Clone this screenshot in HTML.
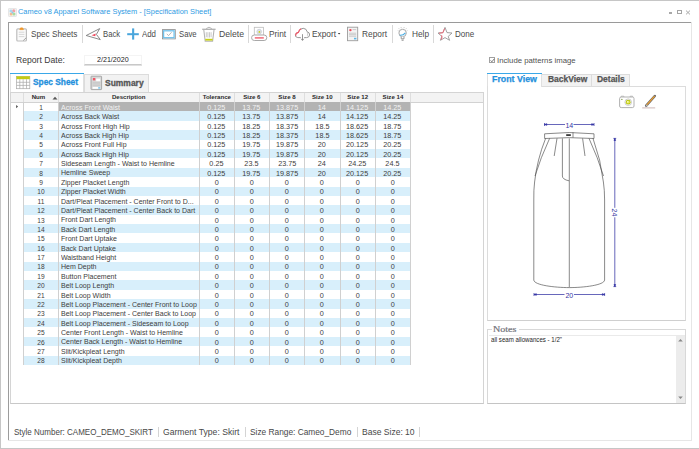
<!DOCTYPE html>
<html><head><meta charset="utf-8"><style>
html,body{margin:0;padding:0;width:699px;height:449px;overflow:hidden;background:#fff;font-family:'Liberation Sans', sans-serif;position:relative}
</style></head><body>
<div style="position:absolute;left:0px;top:0px;width:699px;height:1px;background:#c6c6c6;"></div>
<div style="position:absolute;left:0px;top:0px;width:1px;height:449px;background:#c6c6c6;"></div>
<div style="position:absolute;left:0px;top:448px;width:699px;height:1px;background:#c6c6c6;"></div>
<svg style="position:absolute;left:8px;top:7.6px" width="9" height="9" viewBox="0 0 9 9">
<rect x="0.4" y="0.4" width="8.2" height="8.2" rx="1" fill="#f2f2f2" stroke="#d6d6d6" stroke-width="0.6"/>
<circle cx="3" cy="3" r="1.5" fill="#a8d8f0"/>
<circle cx="5.8" cy="2.8" r="1.5" fill="#f4a0a0"/>
<circle cx="3.2" cy="5.9" r="1.5" fill="#f6c880"/>
<circle cx="6" cy="6" r="1.5" fill="#a8dca0"/>
<path d="M2 7 L7 2" stroke="#f6a0b0" stroke-width="0.9"/>
<circle cx="4.5" cy="4.5" r="1" fill="#8ec8ee"/>
</svg>
<div style="position:absolute;top:8.44px;font-size:8.1px;line-height:1;font-weight:400;color:#2e9be3;white-space:pre;left:18.40px;transform:scaleX(0.9166);transform-origin:0 0">Cameo v8 Apparel Software System - [Specification Sheet]</div>
<div style="position:absolute;left:668.5px;top:12.4px;width:3.5px;height:1.4px;background:#a8a8a8;"></div>
<div style="position:absolute;left:676.8px;top:10px;width:4.9px;height:4px;box-sizing:border-box;border:0.8px solid #a4a4a4;border-top-width:1.6px"></div>
<svg style="position:absolute;left:685px;top:9.5px" width="6" height="5" viewBox="0 0 6 5"><path d="M1 0.6 L5 4.4 M5 0.6 L1 4.4" stroke="#a0a0a0" stroke-width="0.9"/></svg>
<div style="position:absolute;left:8px;top:22px;width:683px;height:1px;background:#9a9a9a;"></div>
<div style="position:absolute;left:8px;top:22px;width:1px;height:418px;background:#9c9c9c;"></div>
<div style="position:absolute;left:691px;top:22px;width:1px;height:418px;background:#e6e6e6;"></div>
<div style="position:absolute;left:8px;top:440px;width:684px;height:1px;background:#e6e6e6;"></div>
<div style="position:absolute;left:82px;top:25.3px;width:1px;height:17.4px;background:#d8d8d8;"></div>
<div style="position:absolute;left:248px;top:25.3px;width:1px;height:17.4px;background:#d8d8d8;"></div>
<div style="position:absolute;left:290px;top:25.3px;width:1px;height:17.4px;background:#d8d8d8;"></div>
<div style="position:absolute;left:391.5px;top:25.3px;width:1px;height:17.4px;background:#d8d8d8;"></div>
<div style="position:absolute;left:433px;top:25.3px;width:1px;height:17.4px;background:#d8d8d8;"></div>
<div style="position:absolute;top:29.95px;font-size:8.8px;line-height:1;font-weight:400;color:#4a4a4a;white-space:pre;left:31.00px;transform:scaleX(0.9300);transform-origin:0 0">Spec Sheets</div>
<div style="position:absolute;top:29.95px;font-size:8.8px;line-height:1;font-weight:400;color:#4a4a4a;white-space:pre;left:103.30px;transform:scaleX(0.8741);transform-origin:0 0">Back</div>
<div style="position:absolute;top:29.95px;font-size:8.8px;line-height:1;font-weight:400;color:#4a4a4a;white-space:pre;left:142.30px;transform:scaleX(0.8942);transform-origin:0 0">Add</div>
<div style="position:absolute;top:29.95px;font-size:8.8px;line-height:1;font-weight:400;color:#4a4a4a;white-space:pre;left:178.60px;transform:scaleX(0.8773);transform-origin:0 0">Save</div>
<div style="position:absolute;top:29.95px;font-size:8.8px;line-height:1;font-weight:400;color:#4a4a4a;white-space:pre;left:218.60px;transform:scaleX(0.9867);transform-origin:0 0">Delete</div>
<div style="position:absolute;top:29.95px;font-size:8.8px;line-height:1;font-weight:400;color:#4a4a4a;white-space:pre;left:268.80px;transform:scaleX(0.9451);transform-origin:0 0">Print</div>
<div style="position:absolute;top:29.95px;font-size:8.8px;line-height:1;font-weight:400;color:#4a4a4a;white-space:pre;left:312.00px;transform:scaleX(0.9474);transform-origin:0 0">Export</div>
<div style="position:absolute;top:29.95px;font-size:8.8px;line-height:1;font-weight:400;color:#4a4a4a;white-space:pre;left:362.00px;transform:scaleX(0.9467);transform-origin:0 0">Report</div>
<div style="position:absolute;top:29.95px;font-size:8.8px;line-height:1;font-weight:400;color:#4a4a4a;white-space:pre;left:412.10px;transform:scaleX(0.9396);transform-origin:0 0">Help</div>
<div style="position:absolute;top:29.95px;font-size:8.8px;line-height:1;font-weight:400;color:#4a4a4a;white-space:pre;left:454.60px;transform:scaleX(0.9129);transform-origin:0 0">Done</div>
<div style="position:absolute;top:55.63px;font-size:9.3px;line-height:1;font-weight:400;color:#3a3a3a;white-space:pre;left:15.60px;transform:scaleX(0.9276);transform-origin:0 0">Report Date:</div>
<div style="position:absolute;left:84px;top:54.5px;width:57.5px;height:10.8px;box-sizing:border-box;background:#fff;border:1px solid #f4f4f4;border-bottom:1.5px solid #c8c8c8;box-shadow:0 0.5px 0.5px #e0e0e0"></div>
<div style="position:absolute;top:56.07px;font-size:7px;line-height:1;font-weight:400;color:#222;white-space:pre;left:96.50px;transform:scaleX(1.0175);transform-origin:0 0">2/21/2020</div>
<div style="position:absolute;left:10px;top:72.5px;width:73.5px;height:1.3px;background:#3aa8e8;"></div>
<div style="position:absolute;left:10px;top:73.5px;width:73.5px;height:19px;box-sizing:border-box;background:#fff;border-left:1px solid #e0e0e0;border-right:1px solid #e0e0e0"></div>
<div style="position:absolute;left:83.5px;top:74px;width:65px;height:18.5px;box-sizing:border-box;background:#f2f2f2;border:1px solid #dcdcdc;border-bottom:none"></div>
<div style="position:absolute;top:78.41px;font-size:9.2px;line-height:1;font-weight:700;color:#1f90dc;white-space:pre;-webkit-text-stroke:0.3px #1f90dc;left:32.70px;transform:scaleX(0.9085);transform-origin:0 0">Spec Sheet</div>
<div style="position:absolute;top:79.01px;font-size:9.2px;line-height:1;font-weight:700;color:#555;white-space:pre;-webkit-text-stroke:0.3px #555;left:105.00px;transform:scaleX(0.9218);transform-origin:0 0">Summary</div>
<div style="position:absolute;left:10px;top:92px;width:473.5px;height:311.5px;box-sizing:border-box;border:1px solid #d4d4d4;border-bottom:1.5px solid #c8c8c8;background:#fff"></div>

<div style="position:absolute;left:489px;top:57px;width:6.4px;height:6.4px;box-sizing:border-box;border:0.8px solid #a0a0a0;background:#fff"></div>
<svg style="position:absolute;left:489px;top:57px" width="7" height="7" viewBox="0 0 7 7"><path d="M1.6 3.4 L2.9 4.8 L5.2 1.9" fill="none" stroke="#505050" stroke-width="0.75"/></svg>
<div style="position:absolute;top:56.78px;font-size:7.7px;line-height:1;font-weight:400;color:#505050;white-space:pre;left:497.20px;transform:scaleX(1.0105);transform-origin:0 0">Include patterns image</div>
<div style="position:absolute;left:487px;top:72.5px;width:55px;height:1.3px;background:#3aa8e8;"></div>
<div style="position:absolute;left:487px;top:73.5px;width:55px;height:13px;box-sizing:border-box;background:#fff;border-left:1px solid #e0e0e0;border-right:1px solid #e0e0e0"></div>
<div style="position:absolute;left:542px;top:74px;width:50px;height:12.5px;box-sizing:border-box;background:#f2f2f2;border:1px solid #dcdcdc;border-bottom:none;border-left:none"></div>
<div style="position:absolute;left:592px;top:74px;width:38px;height:12.5px;box-sizing:border-box;background:#f2f2f2;border:1px solid #dcdcdc;border-bottom:none;border-left:none"></div>
<div style="position:absolute;top:75.32px;font-size:8.6px;line-height:1;font-weight:700;color:#1f90dc;white-space:pre;-webkit-text-stroke:0.25px #1f90dc;left:492.30px;transform:scaleX(1.0256);transform-origin:0 0">Front View</div>
<div style="position:absolute;top:74.92px;font-size:8.6px;line-height:1;font-weight:700;color:#555;white-space:pre;-webkit-text-stroke:0.25px #555;left:547.70px;transform:scaleX(0.9829);transform-origin:0 0">BackView</div>
<div style="position:absolute;top:74.92px;font-size:8.6px;line-height:1;font-weight:700;color:#555;white-space:pre;-webkit-text-stroke:0.25px #555;left:597.20px;transform:scaleX(0.9863);transform-origin:0 0">Details</div>
<div style="position:absolute;left:487px;top:86px;width:198.5px;height:234.5px;box-sizing:border-box;border:1px solid #dcdcdc;border-bottom:1.5px solid #cfcfcf;border-top:none"></div>
<div style="position:absolute;left:542px;top:86px;width:143.5px;height:1px;background:#dcdcdc;"></div>
<svg style="position:absolute;left:487px;top:86px" width="198" height="234" viewBox="487 86 198 234">
<!-- camera -->
<rect x="619.6" y="97" width="14.4" height="10.6" rx="1.6" fill="#fff" stroke="#a8a8a8" stroke-width="0.9"/>
<path d="M621.2 97 V96.2 H623.8 V97 M630.2 97 V96.2 H632.6 V97" fill="none" stroke="#b0b0b0" stroke-width="0.8"/>
<circle cx="628.2" cy="102.2" r="3.3" fill="#fff" stroke="#b8b8b8" stroke-width="0.7"/>
<circle cx="628.2" cy="102.2" r="2.4" fill="#b8c40c"/>
<circle cx="628.2" cy="102.2" r="1.4" fill="#e8ec60"/>
<circle cx="627.7" cy="101.8" r="0.6" fill="#fff"/>
<circle cx="621.9" cy="99.4" r="0.55" fill="#5a7a10"/>
<!-- pencil -->
<path d="M646.2 105.6 L654.8 96" stroke="#6a6a6a" stroke-width="2.5" stroke-linecap="round"/>
<path d="M646.4 105.4 L654.6 96.2" stroke="#f0a030" stroke-width="1.2"/>
<path d="M645.4 106.8 L646.8 104.6 L647.8 105.6Z" fill="#eee" stroke="#777" stroke-width="0.4"/>
<path d="M642.2 107.9 H655.2" stroke="#b89a9a" stroke-width="0.7"/>
<!-- dimension 14 -->
<g stroke="#3434a4" stroke-width="0.75" fill="none">
<path d="M544.5 124.5 H565 M573.5 124.5 H594"/>
<path d="M544.5 123 V126 M594 123 V126"/>
<path d="M544.6 124.5 L546.8 123.7 L546.8 125.3Z M593.9 124.5 L591.7 123.7 L591.7 125.3Z" fill="#3a3aa8"/>
<path d="M534 294.5 H564.5 M574 294.5 H604.6"/>
<path d="M534 293 V296 M604.6 293 V296"/>
<path d="M534.1 294.5 L536.3 293.7 L536.3 295.3Z M604.5 294.5 L602.3 293.7 L602.3 295.3Z" fill="#3a3aa8"/>
<path d="M614.8 138.4 V207.8 M614.8 217.3 V286.6"/>
<path d="M613.4 138.4 H616.2 M613.4 286.6 H616.2"/>
<path d="M614.8 138.5 L614 140.5 L615.6 140.5Z M614.8 286.5 L614 284.5 L615.6 284.5Z" fill="#3a3aa8"/>
</g>
<text x="569.3" y="128.3" font-size="7" fill="#3434a4" text-anchor="middle" font-family="Liberation Sans">14</text>
<text x="569.3" y="297.8" font-size="7" fill="#3434a4" text-anchor="middle" font-family="Liberation Sans">20</text>
<text x="0" y="0" font-size="7" fill="#3434a4" text-anchor="middle" font-family="Liberation Sans" transform="translate(612.3 212.5) rotate(90)">24</text>
<!-- skirt -->
<g stroke="#4a4a4a" stroke-width="0.65" fill="none">
<path d="M544.6 133.8 Q569.3 131.2 594 133.8 V138.5 Q569.3 136.8 544.6 138.5Z" fill="#fff"/>
<path d="M573 132.3 V137.6"/>
<path d="M545.6 138.4 Q537 160 534.6 182 Q533.6 190 533.8 200 V280 C534 285.2 555 287.6 569.3 287.6 C583.6 287.6 604.4 285.2 604.6 280 V200 Q604.6 190 603.4 182 Q601 160 593 138.4"/>
<path d="M549.6 138.4 Q540.5 158 535 176"/>
<path d="M589 138.4 Q598 158 603.5 176"/>
<path d="M557 138.4 L554.2 156"/>
<path d="M582.6 138.4 L585 156"/>
<path d="M562.4 138.4 V176 Q562.4 179.5 569 180.8"/>
<path d="M569.3 138.4 V287.2"/>
</g>
<rect x="566.2" y="134.2" width="4.6" height="1.8" fill="#3a3a3a"/>
</svg>

<div style="position:absolute;left:487px;top:329px;width:198.5px;height:74.5px;box-sizing:border-box;border:1px solid #d8d8d8;border-bottom:1.5px solid #c4c4c4"></div>
<div style="position:absolute;left:492px;top:326px;width:27px;height:6px;background:#fff;"></div>
<div style="position:absolute;top:326.06px;font-size:8.2px;line-height:1;font-weight:400;color:#74747c;white-space:pre;-webkit-text-stroke:0.2px #74747c;font-family:'Liberation Serif';left:492.60px;transform:scaleX(1.2245);transform-origin:0 0">Notes</div>
<div style="position:absolute;left:488.5px;top:335px;width:196px;height:67.5px;box-sizing:border-box;background:#fff;border-top:1px solid #eaeaea"></div>
<div style="position:absolute;left:676px;top:335.5px;width:9px;height:67px;background:#ececec;"></div>
<svg style="position:absolute;left:677px;top:337px" width="7" height="65" viewBox="0 0 7 65"><path d="M1.2 4.6 L3.5 2 L5.8 4.6Z" fill="#888"/><path d="M1.2 59.5 L3.5 62 L5.8 59.5Z" fill="#888"/></svg>
<div style="position:absolute;top:337.07px;font-size:6.3px;line-height:1;font-weight:400;color:#1e1e1e;white-space:pre;left:490.60px;transform:scaleX(0.9734);transform-origin:0 0">all seam allowances - 1/2&quot;</div>
<div style="position:absolute;top:427.54px;font-size:8.7px;line-height:1;font-weight:400;color:#484848;white-space:pre;left:13.70px;transform:scaleX(0.9231);transform-origin:0 0">Style Number: CAMEO_DEMO_SKIRT</div>
<div style="position:absolute;top:427.54px;font-size:8.7px;line-height:1;font-weight:400;color:#484848;white-space:pre;left:163.30px;transform:scaleX(0.9910);transform-origin:0 0">Garment Type: Skirt</div>
<div style="position:absolute;top:427.54px;font-size:8.7px;line-height:1;font-weight:400;color:#484848;white-space:pre;left:250.20px;transform:scaleX(0.9578);transform-origin:0 0">Size Range: Cameo_Demo</div>
<div style="position:absolute;top:427.54px;font-size:8.7px;line-height:1;font-weight:400;color:#484848;white-space:pre;left:361.80px;transform:scaleX(0.9812);transform-origin:0 0">Base Size: 10</div>
<div style="position:absolute;left:157.8px;top:427px;width:1px;height:9.5px;background:#d4d4d4;"></div>
<div style="position:absolute;left:245px;top:427px;width:1px;height:9.5px;background:#d4d4d4;"></div>
<div style="position:absolute;left:356.8px;top:427px;width:1px;height:9.5px;background:#d4d4d4;"></div>
<div style="position:absolute;left:419px;top:427px;width:1px;height:9.5px;background:#d4d4d4;"></div>
<svg style="position:absolute;left:0;top:0" width="699" height="100" viewBox="0 0 699 100">
<!-- clipboard -->
<rect x="16.8" y="28.8" width="9.6" height="12.2" rx="1" fill="#fafafa" stroke="#bdbdbd" stroke-width="1.2"/>
<path d="M19.8 29.6 L20.6 27.9 L22.6 27.9 L23.4 29.6Z" fill="#f0972a" stroke="#f0972a" stroke-width="0.8"/>
<path d="M18.8 32.2 H24.4 M18.8 34.4 H24.4 M18.8 36.6 H24.4" stroke="#c8c8c8" stroke-width="0.7"/>
<path d="M23.2 40.6 L26.2 37.8" stroke="#9a9a9a" stroke-width="0.9"/>
<!-- back plane -->
<path d="M86.2 35.5 L99.7 28.6 L96.4 34.4 L100.3 39.6Z" fill="#fff" stroke="#6e6e6e" stroke-width="0.8" stroke-linejoin="round"/>
<path d="M91.5 35.2 L95.8 33.6 L95.2 36.2Z" fill="#f04a5e"/>
<!-- plus -->
<rect x="127.2" y="33.2" width="11.6" height="2" fill="#4aa6dc"/>
<rect x="132.1" y="28.4" width="2.1" height="11.2" fill="#4aa6dc"/>
<!-- save -->
<rect x="162.4" y="29.6" width="12.9" height="9.3" fill="#fff" stroke="#8c8c8c" stroke-width="0.8"/>
<rect x="163.6" y="30.8" width="10.5" height="6.9" fill="#fff" stroke="#72c2ec" stroke-width="1.3"/>
<path d="M166.8 33.9 L168.6 35.6 L171.6 32.2" fill="none" stroke="#9a9a9a" stroke-width="0.7"/>
<!-- trash -->
<path d="M206.2 28.6 Q209 25.8 211.8 28.6" fill="none" stroke="#b8b8b8" stroke-width="1"/>
<path d="M202.2 29.3 H215.6" stroke="#b0b0b0" stroke-width="1.3"/>
<path d="M203.8 30 L205.2 41.2 H212.6 L214 30" fill="#fff" stroke="#b4b4b4" stroke-width="1.1"/>
<path d="M206.3 32.2 V37.2 M207.9 32.2 V37.5 M209.5 32.2 V37.5 M211.1 32.2 V37.2" stroke="#bdbdbd" stroke-width="0.8"/>
<rect x="205.3" y="38.8" width="7.3" height="1.8" fill="#c6cf14"/>
<!-- printer -->
<rect x="254.3" y="27.3" width="9.2" height="8" fill="#fff" stroke="#bdbdbd" stroke-width="0.8"/>
<circle cx="259.2" cy="31.7" r="2.4" fill="#dfe2ea" stroke="#c0c4d0" stroke-width="0.6"/>
<circle cx="259.4" cy="31.9" r="0.9" fill="#c8d010"/>
<rect x="251.6" y="35" width="15.2" height="5.5" rx="2.7" fill="#fff" stroke="#a8a8a8" stroke-width="1"/>
<rect x="254.8" y="37.2" width="9" height="1.4" fill="#ef6070"/>
<!-- cloud -->
<path d="M300.8 37.6 H297.8 Q294.8 37.2 295.4 34.6 Q296 32.6 298.4 32.4 Q299.2 28.4 303.2 28.3 Q306.6 28.5 307.2 31.8 Q309.8 32.4 309.6 35 Q309.2 37.6 306.6 37.6 H304.2" fill="#fff" stroke="#8c8c8c" stroke-width="0.9"/>
<path d="M307.2 31.8 Q308 33.4 307.4 35.8" fill="none" stroke="#b8b8b8" stroke-width="0.7"/>
<path d="M295.7 35.8 Q295.5 32.9 298.4 32.4 Q299 29.8 301.2 28.8" fill="none" stroke="#f05a6a" stroke-width="1.1"/>
<path d="M302.5 34.2 V40.2 M301.2 38.8 L302.5 40.4 L303.8 38.8" fill="none" stroke="#7a7a7a" stroke-width="0.8"/>
<path d="M337.8 32.9 H340.4 L339.1 34.6Z" fill="#333"/>
<!-- report -->
<rect x="347.5" y="27.2" width="10.2" height="13.5" fill="#f4f4f4" stroke="#9c9c9c" stroke-width="0.9"/>
<circle cx="350.4" cy="30.1" r="1.2" fill="#f04a5a"/>
<path d="M352.6 29.6 H356.2 M349 33.2 H356.2 M349 34.7 H356.2 M349 36.2 H356.2" stroke="#b8b8b8" stroke-width="0.7"/>
<rect x="354" y="37.8" width="2.4" height="1.6" fill="#5cb8e8"/>
<!-- bulb -->
<path d="M399.6 29.2 L398.8 28.4 M401.4 28.2 L401 27.2 M403.8 28.2 L404.2 27.2 M405.6 29.2 L406.4 28.4 M398.6 31 L397.8 30.6 M406.6 31 L407.4 30.6" stroke="#b4b4b4" stroke-width="0.8"/>
<circle cx="402.6" cy="33" r="3.7" fill="#fff" stroke="#a0a0a0" stroke-width="0.9"/>
<path d="M399.8 35.2 Q403 35.6 405.4 32.8" fill="none" stroke="#48ace2" stroke-width="1.2"/>
<path d="M401.2 36.8 V38.8 H404 V36.8" fill="#fff" stroke="#8c8c8c" stroke-width="0.9"/>
<path d="M401.6 40.2 H403.6" stroke="#8c8c8c" stroke-width="1"/>
<!-- star -->
<path d="M445 27.4 L447 32.6 L452 33 L448.2 36.4 L449.6 40.3 L445 37.6 L440.4 40.3 L441.8 36.4 L438 33 L443 32.6Z" fill="#fff" stroke="#8a8a8a" stroke-width="0.8" stroke-linejoin="round"/>
<path d="M444.6 28.6 L442.8 32.8 L439 33.2 M441.6 35.2 L442 37.4 L441.2 39.6" fill="none" stroke="#f06070" stroke-width="0.9"/>
<!-- calendar -->
<rect x="16.5" y="76.5" width="13.3" height="12.2" fill="#fff" stroke="#a8a8a8" stroke-width="0.7"/>
<rect x="16.5" y="76.3" width="13.3" height="2.9" fill="#c4cc12"/>
<path d="M16.5 82.3 H29.8 M16.5 85.4 H29.8 M19.8 79.2 V88.7 M23.15 79.2 V88.7 M26.5 79.2 V88.7" stroke="#a8a8a8" stroke-width="0.7"/>
<!-- summary icon -->
<rect x="91" y="76.2" width="10.6" height="13.4" rx="0.6" fill="#d8d8d8" stroke="#999" stroke-width="0.8"/>
<rect x="92.9" y="78" width="2.4" height="2.4" fill="#f25464"/>
<rect x="96.2" y="78.6" width="4" height="2.6" fill="#fff"/>
<path d="M92.6 82.4 H100.2 M92.6 83.9 H100.2 M92.6 85.4 H100.2" stroke="#bdbdbd" stroke-width="0.6"/>
<rect x="92.6" y="87" width="7.6" height="1.8" fill="#fff"/>
<rect x="98.2" y="87.2" width="2" height="1.4" fill="#6cc0ec"/>
</svg>

<div style="position:absolute;left:11px;top:93px;width:472px;height:9px;background:#f3f3f3;"></div>
<div style="position:absolute;left:11px;top:101.5px;width:472px;height:1px;background:#d2d2d2;"></div>
<div style="position:absolute;left:23px;top:93px;width:1px;height:9px;background:#dedede;"></div>
<div style="position:absolute;left:58px;top:93px;width:1px;height:9px;background:#dedede;"></div>
<div style="position:absolute;left:199px;top:93px;width:1px;height:9px;background:#dedede;"></div>
<div style="position:absolute;left:234px;top:93px;width:1px;height:9px;background:#dedede;"></div>
<div style="position:absolute;left:269px;top:93px;width:1px;height:9px;background:#dedede;"></div>
<div style="position:absolute;left:304px;top:93px;width:1px;height:9px;background:#dedede;"></div>
<div style="position:absolute;left:339.5px;top:93px;width:1px;height:9px;background:#dedede;"></div>
<div style="position:absolute;left:375px;top:93px;width:1px;height:9px;background:#dedede;"></div>
<div style="position:absolute;left:410px;top:93px;width:1px;height:9px;background:#dedede;"></div>
<div style="position:absolute;top:94.34px;font-size:6.1px;line-height:1;font-weight:700;color:#2a2a2a;white-space:pre;left:31.73px">Num</div>
<div style="position:absolute;top:94.34px;font-size:6.1px;line-height:1;font-weight:700;color:#2a2a2a;white-space:pre;left:111.88px">Description</div>
<div style="position:absolute;top:94.34px;font-size:6.1px;line-height:1;font-weight:700;color:#2a2a2a;white-space:pre;left:202.63px">Tolerance</div>
<div style="position:absolute;top:94.34px;font-size:6.1px;line-height:1;font-weight:700;color:#2a2a2a;white-space:pre;left:243.21px">Size 6</div>
<div style="position:absolute;top:94.34px;font-size:6.1px;line-height:1;font-weight:700;color:#2a2a2a;white-space:pre;left:278.36px">Size 8</div>
<div style="position:absolute;top:94.34px;font-size:6.1px;line-height:1;font-weight:700;color:#2a2a2a;white-space:pre;left:311.96px">Size 10</div>
<div style="position:absolute;top:94.34px;font-size:6.1px;line-height:1;font-weight:700;color:#2a2a2a;white-space:pre;left:347.36px">Size 12</div>
<div style="position:absolute;top:94.34px;font-size:6.1px;line-height:1;font-weight:700;color:#2a2a2a;white-space:pre;left:382.61px">Size 14</div>
<svg style="position:absolute;left:51.5px;top:95.6px" width="6" height="4" viewBox="0 0 6 4"><path d="M0.5 3.5 L3 0.8 L5.5 3.5Z" fill="#555"/></svg>
<div style="position:absolute;left:58px;top:102.0px;width:352px;height:9.39px;background:#b3b3b3;"></div>
<div style="position:absolute;left:23px;top:111.39px;width:387px;height:9.39px;background:#d8effb;"></div>
<div style="position:absolute;left:23px;top:130.17px;width:387px;height:9.39px;background:#d8effb;"></div>
<div style="position:absolute;left:23px;top:148.95px;width:387px;height:9.39px;background:#d8effb;"></div>
<div style="position:absolute;left:23px;top:167.73px;width:387px;height:9.39px;background:#d8effb;"></div>
<div style="position:absolute;left:23px;top:186.51px;width:387px;height:9.39px;background:#d8effb;"></div>
<div style="position:absolute;left:23px;top:205.29px;width:387px;height:9.39px;background:#d8effb;"></div>
<div style="position:absolute;left:23px;top:224.07px;width:387px;height:9.39px;background:#d8effb;"></div>
<div style="position:absolute;left:23px;top:242.85px;width:387px;height:9.39px;background:#d8effb;"></div>
<div style="position:absolute;left:23px;top:261.63px;width:387px;height:9.39px;background:#d8effb;"></div>
<div style="position:absolute;left:23px;top:280.41px;width:387px;height:9.39px;background:#d8effb;"></div>
<div style="position:absolute;left:23px;top:299.19px;width:387px;height:9.39px;background:#d8effb;"></div>
<div style="position:absolute;left:23px;top:317.97px;width:387px;height:9.39px;background:#d8effb;"></div>
<div style="position:absolute;left:23px;top:336.75px;width:387px;height:9.39px;background:#d8effb;"></div>
<div style="position:absolute;left:23px;top:355.53px;width:387px;height:9.39px;background:#d8effb;"></div>
<div style="position:absolute;left:23px;top:102px;width:1px;height:262.92px;background:#d0d0d0;"></div>
<div style="position:absolute;left:58px;top:102px;width:1px;height:262.92px;background:#d0d0d0;"></div>
<div style="position:absolute;left:199px;top:102px;width:1px;height:262.92px;background:#d0d0d0;"></div>
<div style="position:absolute;left:234px;top:102px;width:1px;height:262.92px;background:#d0d0d0;"></div>
<div style="position:absolute;left:269px;top:102px;width:1px;height:262.92px;background:#d0d0d0;"></div>
<div style="position:absolute;left:304px;top:102px;width:1px;height:262.92px;background:#d0d0d0;"></div>
<div style="position:absolute;left:339.5px;top:102px;width:1px;height:262.92px;background:#d0d0d0;"></div>
<div style="position:absolute;left:375px;top:102px;width:1px;height:262.92px;background:#d0d0d0;"></div>
<div style="position:absolute;left:410px;top:102px;width:1px;height:262.92px;background:#d0d0d0;"></div>
<svg style="position:absolute;left:15px;top:104px" width="4" height="5" viewBox="0 0 4 5"><path d="M1.2 1 L3 2.6 L1.2 4.2Z" fill="#444"/></svg>
<div style="position:absolute;top:104.86px;font-size:6.6px;line-height:1;font-weight:400;color:#404040;white-space:pre;left:39.16px">1</div>
<div style="position:absolute;top:104.74px;font-size:6.75px;line-height:1;font-weight:400;color:#f2f2f2;white-space:pre;left:61.00px;transform:scaleX(1.04);transform-origin:0 0">Across Front Waist</div>
<div style="position:absolute;top:104.86px;font-size:6.6px;line-height:1;font-weight:400;color:#f2f2f2;white-space:pre;left:208.34px;transform:scaleX(1.1);transform-origin:8.26px 0">0.125</div>
<div style="position:absolute;top:104.86px;font-size:6.6px;line-height:1;font-weight:400;color:#f2f2f2;white-space:pre;left:243.39px;transform:scaleX(1.1);transform-origin:8.26px 0">13.75</div>
<div style="position:absolute;top:104.86px;font-size:6.6px;line-height:1;font-weight:400;color:#f2f2f2;white-space:pre;left:276.71px;transform:scaleX(1.1);transform-origin:10.09px 0">13.875</div>
<div style="position:absolute;top:104.86px;font-size:6.6px;line-height:1;font-weight:400;color:#f2f2f2;white-space:pre;left:318.43px;transform:scaleX(1.1);transform-origin:3.67px 0">14</div>
<div style="position:absolute;top:104.86px;font-size:6.6px;line-height:1;font-weight:400;color:#f2f2f2;white-space:pre;left:347.41px;transform:scaleX(1.1);transform-origin:10.09px 0">14.125</div>
<div style="position:absolute;top:104.86px;font-size:6.6px;line-height:1;font-weight:400;color:#f2f2f2;white-space:pre;left:384.49px;transform:scaleX(1.1);transform-origin:8.26px 0">14.25</div>
<div style="position:absolute;top:114.25px;font-size:6.6px;line-height:1;font-weight:400;color:#404040;white-space:pre;left:39.16px">2</div>
<div style="position:absolute;top:114.13px;font-size:6.75px;line-height:1;font-weight:400;color:#404040;white-space:pre;left:61.00px;transform:scaleX(1.04);transform-origin:0 0">Across Back Waist</div>
<div style="position:absolute;top:114.25px;font-size:6.6px;line-height:1;font-weight:400;color:#404040;white-space:pre;left:208.34px;transform:scaleX(1.1);transform-origin:8.26px 0">0.125</div>
<div style="position:absolute;top:114.25px;font-size:6.6px;line-height:1;font-weight:400;color:#404040;white-space:pre;left:243.39px;transform:scaleX(1.1);transform-origin:8.26px 0">13.75</div>
<div style="position:absolute;top:114.25px;font-size:6.6px;line-height:1;font-weight:400;color:#404040;white-space:pre;left:276.71px;transform:scaleX(1.1);transform-origin:10.09px 0">13.875</div>
<div style="position:absolute;top:114.25px;font-size:6.6px;line-height:1;font-weight:400;color:#404040;white-space:pre;left:318.43px;transform:scaleX(1.1);transform-origin:3.67px 0">14</div>
<div style="position:absolute;top:114.25px;font-size:6.6px;line-height:1;font-weight:400;color:#404040;white-space:pre;left:347.41px;transform:scaleX(1.1);transform-origin:10.09px 0">14.125</div>
<div style="position:absolute;top:114.25px;font-size:6.6px;line-height:1;font-weight:400;color:#404040;white-space:pre;left:384.49px;transform:scaleX(1.1);transform-origin:8.26px 0">14.25</div>
<div style="position:absolute;top:123.64px;font-size:6.6px;line-height:1;font-weight:400;color:#404040;white-space:pre;left:39.16px">3</div>
<div style="position:absolute;top:123.52px;font-size:6.75px;line-height:1;font-weight:400;color:#404040;white-space:pre;left:61.00px;transform:scaleX(1.04);transform-origin:0 0">Across Front High Hip</div>
<div style="position:absolute;top:123.64px;font-size:6.6px;line-height:1;font-weight:400;color:#404040;white-space:pre;left:208.34px;transform:scaleX(1.1);transform-origin:8.26px 0">0.125</div>
<div style="position:absolute;top:123.64px;font-size:6.6px;line-height:1;font-weight:400;color:#404040;white-space:pre;left:243.39px;transform:scaleX(1.1);transform-origin:8.26px 0">18.25</div>
<div style="position:absolute;top:123.64px;font-size:6.6px;line-height:1;font-weight:400;color:#404040;white-space:pre;left:276.71px;transform:scaleX(1.1);transform-origin:10.09px 0">18.375</div>
<div style="position:absolute;top:123.64px;font-size:6.6px;line-height:1;font-weight:400;color:#404040;white-space:pre;left:315.68px;transform:scaleX(1.1);transform-origin:6.42px 0">18.5</div>
<div style="position:absolute;top:123.64px;font-size:6.6px;line-height:1;font-weight:400;color:#404040;white-space:pre;left:347.41px;transform:scaleX(1.1);transform-origin:10.09px 0">18.625</div>
<div style="position:absolute;top:123.64px;font-size:6.6px;line-height:1;font-weight:400;color:#404040;white-space:pre;left:384.49px;transform:scaleX(1.1);transform-origin:8.26px 0">18.75</div>
<div style="position:absolute;top:133.03px;font-size:6.6px;line-height:1;font-weight:400;color:#404040;white-space:pre;left:39.16px">4</div>
<div style="position:absolute;top:132.91px;font-size:6.75px;line-height:1;font-weight:400;color:#404040;white-space:pre;left:61.00px;transform:scaleX(1.04);transform-origin:0 0">Across Back High Hip</div>
<div style="position:absolute;top:133.03px;font-size:6.6px;line-height:1;font-weight:400;color:#404040;white-space:pre;left:208.34px;transform:scaleX(1.1);transform-origin:8.26px 0">0.125</div>
<div style="position:absolute;top:133.03px;font-size:6.6px;line-height:1;font-weight:400;color:#404040;white-space:pre;left:243.39px;transform:scaleX(1.1);transform-origin:8.26px 0">18.25</div>
<div style="position:absolute;top:133.03px;font-size:6.6px;line-height:1;font-weight:400;color:#404040;white-space:pre;left:276.71px;transform:scaleX(1.1);transform-origin:10.09px 0">18.375</div>
<div style="position:absolute;top:133.03px;font-size:6.6px;line-height:1;font-weight:400;color:#404040;white-space:pre;left:315.68px;transform:scaleX(1.1);transform-origin:6.42px 0">18.5</div>
<div style="position:absolute;top:133.03px;font-size:6.6px;line-height:1;font-weight:400;color:#404040;white-space:pre;left:347.41px;transform:scaleX(1.1);transform-origin:10.09px 0">18.625</div>
<div style="position:absolute;top:133.03px;font-size:6.6px;line-height:1;font-weight:400;color:#404040;white-space:pre;left:384.49px;transform:scaleX(1.1);transform-origin:8.26px 0">18.75</div>
<div style="position:absolute;top:142.42px;font-size:6.6px;line-height:1;font-weight:400;color:#404040;white-space:pre;left:39.16px">5</div>
<div style="position:absolute;top:142.30px;font-size:6.75px;line-height:1;font-weight:400;color:#404040;white-space:pre;left:61.00px;transform:scaleX(1.04);transform-origin:0 0">Across Front Full Hip</div>
<div style="position:absolute;top:142.42px;font-size:6.6px;line-height:1;font-weight:400;color:#404040;white-space:pre;left:208.34px;transform:scaleX(1.1);transform-origin:8.26px 0">0.125</div>
<div style="position:absolute;top:142.42px;font-size:6.6px;line-height:1;font-weight:400;color:#404040;white-space:pre;left:243.39px;transform:scaleX(1.1);transform-origin:8.26px 0">19.75</div>
<div style="position:absolute;top:142.42px;font-size:6.6px;line-height:1;font-weight:400;color:#404040;white-space:pre;left:276.71px;transform:scaleX(1.1);transform-origin:10.09px 0">19.875</div>
<div style="position:absolute;top:142.42px;font-size:6.6px;line-height:1;font-weight:400;color:#404040;white-space:pre;left:318.43px;transform:scaleX(1.1);transform-origin:3.67px 0">20</div>
<div style="position:absolute;top:142.42px;font-size:6.6px;line-height:1;font-weight:400;color:#404040;white-space:pre;left:347.41px;transform:scaleX(1.1);transform-origin:10.09px 0">20.125</div>
<div style="position:absolute;top:142.42px;font-size:6.6px;line-height:1;font-weight:400;color:#404040;white-space:pre;left:384.49px;transform:scaleX(1.1);transform-origin:8.26px 0">20.25</div>
<div style="position:absolute;top:151.81px;font-size:6.6px;line-height:1;font-weight:400;color:#404040;white-space:pre;left:39.16px">6</div>
<div style="position:absolute;top:151.69px;font-size:6.75px;line-height:1;font-weight:400;color:#404040;white-space:pre;left:61.00px;transform:scaleX(1.04);transform-origin:0 0">Across Back High Hip</div>
<div style="position:absolute;top:151.81px;font-size:6.6px;line-height:1;font-weight:400;color:#404040;white-space:pre;left:208.34px;transform:scaleX(1.1);transform-origin:8.26px 0">0.125</div>
<div style="position:absolute;top:151.81px;font-size:6.6px;line-height:1;font-weight:400;color:#404040;white-space:pre;left:243.39px;transform:scaleX(1.1);transform-origin:8.26px 0">19.75</div>
<div style="position:absolute;top:151.81px;font-size:6.6px;line-height:1;font-weight:400;color:#404040;white-space:pre;left:276.71px;transform:scaleX(1.1);transform-origin:10.09px 0">19.875</div>
<div style="position:absolute;top:151.81px;font-size:6.6px;line-height:1;font-weight:400;color:#404040;white-space:pre;left:318.43px;transform:scaleX(1.1);transform-origin:3.67px 0">20</div>
<div style="position:absolute;top:151.81px;font-size:6.6px;line-height:1;font-weight:400;color:#404040;white-space:pre;left:347.41px;transform:scaleX(1.1);transform-origin:10.09px 0">20.125</div>
<div style="position:absolute;top:151.81px;font-size:6.6px;line-height:1;font-weight:400;color:#404040;white-space:pre;left:384.49px;transform:scaleX(1.1);transform-origin:8.26px 0">20.25</div>
<div style="position:absolute;top:161.20px;font-size:6.6px;line-height:1;font-weight:400;color:#404040;white-space:pre;left:39.16px">7</div>
<div style="position:absolute;top:161.08px;font-size:6.75px;line-height:1;font-weight:400;color:#404040;white-space:pre;left:61.00px;transform:scaleX(1.04);transform-origin:0 0">Sideseam Length - Waist to Hemline</div>
<div style="position:absolute;top:161.20px;font-size:6.6px;line-height:1;font-weight:400;color:#404040;white-space:pre;left:210.18px;transform:scaleX(1.1);transform-origin:6.42px 0">0.25</div>
<div style="position:absolute;top:161.20px;font-size:6.6px;line-height:1;font-weight:400;color:#404040;white-space:pre;left:245.23px;transform:scaleX(1.1);transform-origin:6.42px 0">23.5</div>
<div style="position:absolute;top:161.20px;font-size:6.6px;line-height:1;font-weight:400;color:#404040;white-space:pre;left:278.54px;transform:scaleX(1.1);transform-origin:8.26px 0">23.75</div>
<div style="position:absolute;top:161.20px;font-size:6.6px;line-height:1;font-weight:400;color:#404040;white-space:pre;left:318.43px;transform:scaleX(1.1);transform-origin:3.67px 0">24</div>
<div style="position:absolute;top:161.20px;font-size:6.6px;line-height:1;font-weight:400;color:#404040;white-space:pre;left:349.24px;transform:scaleX(1.1);transform-origin:8.26px 0">24.25</div>
<div style="position:absolute;top:161.20px;font-size:6.6px;line-height:1;font-weight:400;color:#404040;white-space:pre;left:386.33px;transform:scaleX(1.1);transform-origin:6.42px 0">24.5</div>
<div style="position:absolute;top:170.59px;font-size:6.6px;line-height:1;font-weight:400;color:#404040;white-space:pre;left:39.16px">8</div>
<div style="position:absolute;top:170.47px;font-size:6.75px;line-height:1;font-weight:400;color:#404040;white-space:pre;left:61.00px;transform:scaleX(1.04);transform-origin:0 0">Hemline Sweep</div>
<div style="position:absolute;top:170.59px;font-size:6.6px;line-height:1;font-weight:400;color:#404040;white-space:pre;left:208.34px;transform:scaleX(1.1);transform-origin:8.26px 0">0.125</div>
<div style="position:absolute;top:170.59px;font-size:6.6px;line-height:1;font-weight:400;color:#404040;white-space:pre;left:243.39px;transform:scaleX(1.1);transform-origin:8.26px 0">19.75</div>
<div style="position:absolute;top:170.59px;font-size:6.6px;line-height:1;font-weight:400;color:#404040;white-space:pre;left:276.71px;transform:scaleX(1.1);transform-origin:10.09px 0">19.875</div>
<div style="position:absolute;top:170.59px;font-size:6.6px;line-height:1;font-weight:400;color:#404040;white-space:pre;left:318.43px;transform:scaleX(1.1);transform-origin:3.67px 0">20</div>
<div style="position:absolute;top:170.59px;font-size:6.6px;line-height:1;font-weight:400;color:#404040;white-space:pre;left:347.41px;transform:scaleX(1.1);transform-origin:10.09px 0">20.125</div>
<div style="position:absolute;top:170.59px;font-size:6.6px;line-height:1;font-weight:400;color:#404040;white-space:pre;left:384.49px;transform:scaleX(1.1);transform-origin:8.26px 0">20.25</div>
<div style="position:absolute;top:179.98px;font-size:6.6px;line-height:1;font-weight:400;color:#404040;white-space:pre;left:39.16px">9</div>
<div style="position:absolute;top:179.86px;font-size:6.75px;line-height:1;font-weight:400;color:#404040;white-space:pre;left:61.00px;transform:scaleX(1.04);transform-origin:0 0">Zipper Placket Length</div>
<div style="position:absolute;top:179.98px;font-size:6.6px;line-height:1;font-weight:400;color:#404040;white-space:pre;left:214.76px;transform:scaleX(1.1);transform-origin:1.84px 0">0</div>
<div style="position:absolute;top:179.98px;font-size:6.6px;line-height:1;font-weight:400;color:#404040;white-space:pre;left:249.81px;transform:scaleX(1.1);transform-origin:1.84px 0">0</div>
<div style="position:absolute;top:179.98px;font-size:6.6px;line-height:1;font-weight:400;color:#404040;white-space:pre;left:284.96px;transform:scaleX(1.1);transform-origin:1.84px 0">0</div>
<div style="position:absolute;top:179.98px;font-size:6.6px;line-height:1;font-weight:400;color:#404040;white-space:pre;left:320.26px;transform:scaleX(1.1);transform-origin:1.84px 0">0</div>
<div style="position:absolute;top:179.98px;font-size:6.6px;line-height:1;font-weight:400;color:#404040;white-space:pre;left:355.66px;transform:scaleX(1.1);transform-origin:1.84px 0">0</div>
<div style="position:absolute;top:179.98px;font-size:6.6px;line-height:1;font-weight:400;color:#404040;white-space:pre;left:390.91px;transform:scaleX(1.1);transform-origin:1.84px 0">0</div>
<div style="position:absolute;top:189.37px;font-size:6.6px;line-height:1;font-weight:400;color:#404040;white-space:pre;left:37.33px">10</div>
<div style="position:absolute;top:189.25px;font-size:6.75px;line-height:1;font-weight:400;color:#404040;white-space:pre;left:61.00px;transform:scaleX(1.04);transform-origin:0 0">Zipper Placket Width</div>
<div style="position:absolute;top:189.37px;font-size:6.6px;line-height:1;font-weight:400;color:#404040;white-space:pre;left:214.76px;transform:scaleX(1.1);transform-origin:1.84px 0">0</div>
<div style="position:absolute;top:189.37px;font-size:6.6px;line-height:1;font-weight:400;color:#404040;white-space:pre;left:249.81px;transform:scaleX(1.1);transform-origin:1.84px 0">0</div>
<div style="position:absolute;top:189.37px;font-size:6.6px;line-height:1;font-weight:400;color:#404040;white-space:pre;left:284.96px;transform:scaleX(1.1);transform-origin:1.84px 0">0</div>
<div style="position:absolute;top:189.37px;font-size:6.6px;line-height:1;font-weight:400;color:#404040;white-space:pre;left:320.26px;transform:scaleX(1.1);transform-origin:1.84px 0">0</div>
<div style="position:absolute;top:189.37px;font-size:6.6px;line-height:1;font-weight:400;color:#404040;white-space:pre;left:355.66px;transform:scaleX(1.1);transform-origin:1.84px 0">0</div>
<div style="position:absolute;top:189.37px;font-size:6.6px;line-height:1;font-weight:400;color:#404040;white-space:pre;left:390.91px;transform:scaleX(1.1);transform-origin:1.84px 0">0</div>
<div style="position:absolute;top:198.76px;font-size:6.6px;line-height:1;font-weight:400;color:#404040;white-space:pre;left:37.57px">11</div>
<div style="position:absolute;top:198.64px;font-size:6.75px;line-height:1;font-weight:400;color:#404040;white-space:pre;left:61.00px;transform:scaleX(1.04);transform-origin:0 0">Dart/Pleat Placement - Center Front to D...</div>
<div style="position:absolute;top:198.76px;font-size:6.6px;line-height:1;font-weight:400;color:#404040;white-space:pre;left:214.76px;transform:scaleX(1.1);transform-origin:1.84px 0">0</div>
<div style="position:absolute;top:198.76px;font-size:6.6px;line-height:1;font-weight:400;color:#404040;white-space:pre;left:249.81px;transform:scaleX(1.1);transform-origin:1.84px 0">0</div>
<div style="position:absolute;top:198.76px;font-size:6.6px;line-height:1;font-weight:400;color:#404040;white-space:pre;left:284.96px;transform:scaleX(1.1);transform-origin:1.84px 0">0</div>
<div style="position:absolute;top:198.76px;font-size:6.6px;line-height:1;font-weight:400;color:#404040;white-space:pre;left:320.26px;transform:scaleX(1.1);transform-origin:1.84px 0">0</div>
<div style="position:absolute;top:198.76px;font-size:6.6px;line-height:1;font-weight:400;color:#404040;white-space:pre;left:355.66px;transform:scaleX(1.1);transform-origin:1.84px 0">0</div>
<div style="position:absolute;top:198.76px;font-size:6.6px;line-height:1;font-weight:400;color:#404040;white-space:pre;left:390.91px;transform:scaleX(1.1);transform-origin:1.84px 0">0</div>
<div style="position:absolute;top:208.15px;font-size:6.6px;line-height:1;font-weight:400;color:#404040;white-space:pre;left:37.33px">12</div>
<div style="position:absolute;top:208.03px;font-size:6.75px;line-height:1;font-weight:400;color:#404040;white-space:pre;left:61.00px;transform:scaleX(1.04);transform-origin:0 0">Dart/Pleat Placement - Center Back to Dart</div>
<div style="position:absolute;top:208.15px;font-size:6.6px;line-height:1;font-weight:400;color:#404040;white-space:pre;left:214.76px;transform:scaleX(1.1);transform-origin:1.84px 0">0</div>
<div style="position:absolute;top:208.15px;font-size:6.6px;line-height:1;font-weight:400;color:#404040;white-space:pre;left:249.81px;transform:scaleX(1.1);transform-origin:1.84px 0">0</div>
<div style="position:absolute;top:208.15px;font-size:6.6px;line-height:1;font-weight:400;color:#404040;white-space:pre;left:284.96px;transform:scaleX(1.1);transform-origin:1.84px 0">0</div>
<div style="position:absolute;top:208.15px;font-size:6.6px;line-height:1;font-weight:400;color:#404040;white-space:pre;left:320.26px;transform:scaleX(1.1);transform-origin:1.84px 0">0</div>
<div style="position:absolute;top:208.15px;font-size:6.6px;line-height:1;font-weight:400;color:#404040;white-space:pre;left:355.66px;transform:scaleX(1.1);transform-origin:1.84px 0">0</div>
<div style="position:absolute;top:208.15px;font-size:6.6px;line-height:1;font-weight:400;color:#404040;white-space:pre;left:390.91px;transform:scaleX(1.1);transform-origin:1.84px 0">0</div>
<div style="position:absolute;top:217.54px;font-size:6.6px;line-height:1;font-weight:400;color:#404040;white-space:pre;left:37.33px">13</div>
<div style="position:absolute;top:217.42px;font-size:6.75px;line-height:1;font-weight:400;color:#404040;white-space:pre;left:61.00px;transform:scaleX(1.04);transform-origin:0 0">Front Dart Length</div>
<div style="position:absolute;top:217.54px;font-size:6.6px;line-height:1;font-weight:400;color:#404040;white-space:pre;left:214.76px;transform:scaleX(1.1);transform-origin:1.84px 0">0</div>
<div style="position:absolute;top:217.54px;font-size:6.6px;line-height:1;font-weight:400;color:#404040;white-space:pre;left:249.81px;transform:scaleX(1.1);transform-origin:1.84px 0">0</div>
<div style="position:absolute;top:217.54px;font-size:6.6px;line-height:1;font-weight:400;color:#404040;white-space:pre;left:284.96px;transform:scaleX(1.1);transform-origin:1.84px 0">0</div>
<div style="position:absolute;top:217.54px;font-size:6.6px;line-height:1;font-weight:400;color:#404040;white-space:pre;left:320.26px;transform:scaleX(1.1);transform-origin:1.84px 0">0</div>
<div style="position:absolute;top:217.54px;font-size:6.6px;line-height:1;font-weight:400;color:#404040;white-space:pre;left:355.66px;transform:scaleX(1.1);transform-origin:1.84px 0">0</div>
<div style="position:absolute;top:217.54px;font-size:6.6px;line-height:1;font-weight:400;color:#404040;white-space:pre;left:390.91px;transform:scaleX(1.1);transform-origin:1.84px 0">0</div>
<div style="position:absolute;top:226.93px;font-size:6.6px;line-height:1;font-weight:400;color:#404040;white-space:pre;left:37.33px">14</div>
<div style="position:absolute;top:226.81px;font-size:6.75px;line-height:1;font-weight:400;color:#404040;white-space:pre;left:61.00px;transform:scaleX(1.04);transform-origin:0 0">Back Dart Length</div>
<div style="position:absolute;top:226.93px;font-size:6.6px;line-height:1;font-weight:400;color:#404040;white-space:pre;left:214.76px;transform:scaleX(1.1);transform-origin:1.84px 0">0</div>
<div style="position:absolute;top:226.93px;font-size:6.6px;line-height:1;font-weight:400;color:#404040;white-space:pre;left:249.81px;transform:scaleX(1.1);transform-origin:1.84px 0">0</div>
<div style="position:absolute;top:226.93px;font-size:6.6px;line-height:1;font-weight:400;color:#404040;white-space:pre;left:284.96px;transform:scaleX(1.1);transform-origin:1.84px 0">0</div>
<div style="position:absolute;top:226.93px;font-size:6.6px;line-height:1;font-weight:400;color:#404040;white-space:pre;left:320.26px;transform:scaleX(1.1);transform-origin:1.84px 0">0</div>
<div style="position:absolute;top:226.93px;font-size:6.6px;line-height:1;font-weight:400;color:#404040;white-space:pre;left:355.66px;transform:scaleX(1.1);transform-origin:1.84px 0">0</div>
<div style="position:absolute;top:226.93px;font-size:6.6px;line-height:1;font-weight:400;color:#404040;white-space:pre;left:390.91px;transform:scaleX(1.1);transform-origin:1.84px 0">0</div>
<div style="position:absolute;top:236.32px;font-size:6.6px;line-height:1;font-weight:400;color:#404040;white-space:pre;left:37.33px">15</div>
<div style="position:absolute;top:236.20px;font-size:6.75px;line-height:1;font-weight:400;color:#404040;white-space:pre;left:61.00px;transform:scaleX(1.04);transform-origin:0 0">Front Dart Uptake</div>
<div style="position:absolute;top:236.32px;font-size:6.6px;line-height:1;font-weight:400;color:#404040;white-space:pre;left:214.76px;transform:scaleX(1.1);transform-origin:1.84px 0">0</div>
<div style="position:absolute;top:236.32px;font-size:6.6px;line-height:1;font-weight:400;color:#404040;white-space:pre;left:249.81px;transform:scaleX(1.1);transform-origin:1.84px 0">0</div>
<div style="position:absolute;top:236.32px;font-size:6.6px;line-height:1;font-weight:400;color:#404040;white-space:pre;left:284.96px;transform:scaleX(1.1);transform-origin:1.84px 0">0</div>
<div style="position:absolute;top:236.32px;font-size:6.6px;line-height:1;font-weight:400;color:#404040;white-space:pre;left:320.26px;transform:scaleX(1.1);transform-origin:1.84px 0">0</div>
<div style="position:absolute;top:236.32px;font-size:6.6px;line-height:1;font-weight:400;color:#404040;white-space:pre;left:355.66px;transform:scaleX(1.1);transform-origin:1.84px 0">0</div>
<div style="position:absolute;top:236.32px;font-size:6.6px;line-height:1;font-weight:400;color:#404040;white-space:pre;left:390.91px;transform:scaleX(1.1);transform-origin:1.84px 0">0</div>
<div style="position:absolute;top:245.71px;font-size:6.6px;line-height:1;font-weight:400;color:#404040;white-space:pre;left:37.33px">16</div>
<div style="position:absolute;top:245.59px;font-size:6.75px;line-height:1;font-weight:400;color:#404040;white-space:pre;left:61.00px;transform:scaleX(1.04);transform-origin:0 0">Back Dart Uptake</div>
<div style="position:absolute;top:245.71px;font-size:6.6px;line-height:1;font-weight:400;color:#404040;white-space:pre;left:214.76px;transform:scaleX(1.1);transform-origin:1.84px 0">0</div>
<div style="position:absolute;top:245.71px;font-size:6.6px;line-height:1;font-weight:400;color:#404040;white-space:pre;left:249.81px;transform:scaleX(1.1);transform-origin:1.84px 0">0</div>
<div style="position:absolute;top:245.71px;font-size:6.6px;line-height:1;font-weight:400;color:#404040;white-space:pre;left:284.96px;transform:scaleX(1.1);transform-origin:1.84px 0">0</div>
<div style="position:absolute;top:245.71px;font-size:6.6px;line-height:1;font-weight:400;color:#404040;white-space:pre;left:320.26px;transform:scaleX(1.1);transform-origin:1.84px 0">0</div>
<div style="position:absolute;top:245.71px;font-size:6.6px;line-height:1;font-weight:400;color:#404040;white-space:pre;left:355.66px;transform:scaleX(1.1);transform-origin:1.84px 0">0</div>
<div style="position:absolute;top:245.71px;font-size:6.6px;line-height:1;font-weight:400;color:#404040;white-space:pre;left:390.91px;transform:scaleX(1.1);transform-origin:1.84px 0">0</div>
<div style="position:absolute;top:255.10px;font-size:6.6px;line-height:1;font-weight:400;color:#404040;white-space:pre;left:37.33px">17</div>
<div style="position:absolute;top:254.98px;font-size:6.75px;line-height:1;font-weight:400;color:#404040;white-space:pre;left:61.00px;transform:scaleX(1.04);transform-origin:0 0">Waistband Height</div>
<div style="position:absolute;top:255.10px;font-size:6.6px;line-height:1;font-weight:400;color:#404040;white-space:pre;left:214.76px;transform:scaleX(1.1);transform-origin:1.84px 0">0</div>
<div style="position:absolute;top:255.10px;font-size:6.6px;line-height:1;font-weight:400;color:#404040;white-space:pre;left:249.81px;transform:scaleX(1.1);transform-origin:1.84px 0">0</div>
<div style="position:absolute;top:255.10px;font-size:6.6px;line-height:1;font-weight:400;color:#404040;white-space:pre;left:284.96px;transform:scaleX(1.1);transform-origin:1.84px 0">0</div>
<div style="position:absolute;top:255.10px;font-size:6.6px;line-height:1;font-weight:400;color:#404040;white-space:pre;left:320.26px;transform:scaleX(1.1);transform-origin:1.84px 0">0</div>
<div style="position:absolute;top:255.10px;font-size:6.6px;line-height:1;font-weight:400;color:#404040;white-space:pre;left:355.66px;transform:scaleX(1.1);transform-origin:1.84px 0">0</div>
<div style="position:absolute;top:255.10px;font-size:6.6px;line-height:1;font-weight:400;color:#404040;white-space:pre;left:390.91px;transform:scaleX(1.1);transform-origin:1.84px 0">0</div>
<div style="position:absolute;top:264.49px;font-size:6.6px;line-height:1;font-weight:400;color:#404040;white-space:pre;left:37.33px">18</div>
<div style="position:absolute;top:264.37px;font-size:6.75px;line-height:1;font-weight:400;color:#404040;white-space:pre;left:61.00px;transform:scaleX(1.04);transform-origin:0 0">Hem Depth</div>
<div style="position:absolute;top:264.49px;font-size:6.6px;line-height:1;font-weight:400;color:#404040;white-space:pre;left:214.76px;transform:scaleX(1.1);transform-origin:1.84px 0">0</div>
<div style="position:absolute;top:264.49px;font-size:6.6px;line-height:1;font-weight:400;color:#404040;white-space:pre;left:249.81px;transform:scaleX(1.1);transform-origin:1.84px 0">0</div>
<div style="position:absolute;top:264.49px;font-size:6.6px;line-height:1;font-weight:400;color:#404040;white-space:pre;left:284.96px;transform:scaleX(1.1);transform-origin:1.84px 0">0</div>
<div style="position:absolute;top:264.49px;font-size:6.6px;line-height:1;font-weight:400;color:#404040;white-space:pre;left:320.26px;transform:scaleX(1.1);transform-origin:1.84px 0">0</div>
<div style="position:absolute;top:264.49px;font-size:6.6px;line-height:1;font-weight:400;color:#404040;white-space:pre;left:355.66px;transform:scaleX(1.1);transform-origin:1.84px 0">0</div>
<div style="position:absolute;top:264.49px;font-size:6.6px;line-height:1;font-weight:400;color:#404040;white-space:pre;left:390.91px;transform:scaleX(1.1);transform-origin:1.84px 0">0</div>
<div style="position:absolute;top:273.88px;font-size:6.6px;line-height:1;font-weight:400;color:#404040;white-space:pre;left:37.33px">19</div>
<div style="position:absolute;top:273.76px;font-size:6.75px;line-height:1;font-weight:400;color:#404040;white-space:pre;left:61.00px;transform:scaleX(1.04);transform-origin:0 0">Button Placement</div>
<div style="position:absolute;top:273.88px;font-size:6.6px;line-height:1;font-weight:400;color:#404040;white-space:pre;left:214.76px;transform:scaleX(1.1);transform-origin:1.84px 0">0</div>
<div style="position:absolute;top:273.88px;font-size:6.6px;line-height:1;font-weight:400;color:#404040;white-space:pre;left:249.81px;transform:scaleX(1.1);transform-origin:1.84px 0">0</div>
<div style="position:absolute;top:273.88px;font-size:6.6px;line-height:1;font-weight:400;color:#404040;white-space:pre;left:284.96px;transform:scaleX(1.1);transform-origin:1.84px 0">0</div>
<div style="position:absolute;top:273.88px;font-size:6.6px;line-height:1;font-weight:400;color:#404040;white-space:pre;left:320.26px;transform:scaleX(1.1);transform-origin:1.84px 0">0</div>
<div style="position:absolute;top:273.88px;font-size:6.6px;line-height:1;font-weight:400;color:#404040;white-space:pre;left:355.66px;transform:scaleX(1.1);transform-origin:1.84px 0">0</div>
<div style="position:absolute;top:273.88px;font-size:6.6px;line-height:1;font-weight:400;color:#404040;white-space:pre;left:390.91px;transform:scaleX(1.1);transform-origin:1.84px 0">0</div>
<div style="position:absolute;top:283.27px;font-size:6.6px;line-height:1;font-weight:400;color:#404040;white-space:pre;left:37.33px">20</div>
<div style="position:absolute;top:283.15px;font-size:6.75px;line-height:1;font-weight:400;color:#404040;white-space:pre;left:61.00px;transform:scaleX(1.04);transform-origin:0 0">Belt Loop Length</div>
<div style="position:absolute;top:283.27px;font-size:6.6px;line-height:1;font-weight:400;color:#404040;white-space:pre;left:214.76px;transform:scaleX(1.1);transform-origin:1.84px 0">0</div>
<div style="position:absolute;top:283.27px;font-size:6.6px;line-height:1;font-weight:400;color:#404040;white-space:pre;left:249.81px;transform:scaleX(1.1);transform-origin:1.84px 0">0</div>
<div style="position:absolute;top:283.27px;font-size:6.6px;line-height:1;font-weight:400;color:#404040;white-space:pre;left:284.96px;transform:scaleX(1.1);transform-origin:1.84px 0">0</div>
<div style="position:absolute;top:283.27px;font-size:6.6px;line-height:1;font-weight:400;color:#404040;white-space:pre;left:320.26px;transform:scaleX(1.1);transform-origin:1.84px 0">0</div>
<div style="position:absolute;top:283.27px;font-size:6.6px;line-height:1;font-weight:400;color:#404040;white-space:pre;left:355.66px;transform:scaleX(1.1);transform-origin:1.84px 0">0</div>
<div style="position:absolute;top:283.27px;font-size:6.6px;line-height:1;font-weight:400;color:#404040;white-space:pre;left:390.91px;transform:scaleX(1.1);transform-origin:1.84px 0">0</div>
<div style="position:absolute;top:292.66px;font-size:6.6px;line-height:1;font-weight:400;color:#404040;white-space:pre;left:37.33px">21</div>
<div style="position:absolute;top:292.54px;font-size:6.75px;line-height:1;font-weight:400;color:#404040;white-space:pre;left:61.00px;transform:scaleX(1.04);transform-origin:0 0">Belt Loop Width</div>
<div style="position:absolute;top:292.66px;font-size:6.6px;line-height:1;font-weight:400;color:#404040;white-space:pre;left:214.76px;transform:scaleX(1.1);transform-origin:1.84px 0">0</div>
<div style="position:absolute;top:292.66px;font-size:6.6px;line-height:1;font-weight:400;color:#404040;white-space:pre;left:249.81px;transform:scaleX(1.1);transform-origin:1.84px 0">0</div>
<div style="position:absolute;top:292.66px;font-size:6.6px;line-height:1;font-weight:400;color:#404040;white-space:pre;left:284.96px;transform:scaleX(1.1);transform-origin:1.84px 0">0</div>
<div style="position:absolute;top:292.66px;font-size:6.6px;line-height:1;font-weight:400;color:#404040;white-space:pre;left:320.26px;transform:scaleX(1.1);transform-origin:1.84px 0">0</div>
<div style="position:absolute;top:292.66px;font-size:6.6px;line-height:1;font-weight:400;color:#404040;white-space:pre;left:355.66px;transform:scaleX(1.1);transform-origin:1.84px 0">0</div>
<div style="position:absolute;top:292.66px;font-size:6.6px;line-height:1;font-weight:400;color:#404040;white-space:pre;left:390.91px;transform:scaleX(1.1);transform-origin:1.84px 0">0</div>
<div style="position:absolute;top:302.05px;font-size:6.6px;line-height:1;font-weight:400;color:#404040;white-space:pre;left:37.33px">22</div>
<div style="position:absolute;top:301.93px;font-size:6.75px;line-height:1;font-weight:400;color:#404040;white-space:pre;left:61.00px;transform:scaleX(1.04);transform-origin:0 0">Belt Loop Placement - Center Front to Loop</div>
<div style="position:absolute;top:302.05px;font-size:6.6px;line-height:1;font-weight:400;color:#404040;white-space:pre;left:214.76px;transform:scaleX(1.1);transform-origin:1.84px 0">0</div>
<div style="position:absolute;top:302.05px;font-size:6.6px;line-height:1;font-weight:400;color:#404040;white-space:pre;left:249.81px;transform:scaleX(1.1);transform-origin:1.84px 0">0</div>
<div style="position:absolute;top:302.05px;font-size:6.6px;line-height:1;font-weight:400;color:#404040;white-space:pre;left:284.96px;transform:scaleX(1.1);transform-origin:1.84px 0">0</div>
<div style="position:absolute;top:302.05px;font-size:6.6px;line-height:1;font-weight:400;color:#404040;white-space:pre;left:320.26px;transform:scaleX(1.1);transform-origin:1.84px 0">0</div>
<div style="position:absolute;top:302.05px;font-size:6.6px;line-height:1;font-weight:400;color:#404040;white-space:pre;left:355.66px;transform:scaleX(1.1);transform-origin:1.84px 0">0</div>
<div style="position:absolute;top:302.05px;font-size:6.6px;line-height:1;font-weight:400;color:#404040;white-space:pre;left:390.91px;transform:scaleX(1.1);transform-origin:1.84px 0">0</div>
<div style="position:absolute;top:311.44px;font-size:6.6px;line-height:1;font-weight:400;color:#404040;white-space:pre;left:37.33px">23</div>
<div style="position:absolute;top:311.32px;font-size:6.75px;line-height:1;font-weight:400;color:#404040;white-space:pre;left:61.00px;transform:scaleX(1.04);transform-origin:0 0">Belt Loop Placement - Center Back to Loop</div>
<div style="position:absolute;top:311.44px;font-size:6.6px;line-height:1;font-weight:400;color:#404040;white-space:pre;left:214.76px;transform:scaleX(1.1);transform-origin:1.84px 0">0</div>
<div style="position:absolute;top:311.44px;font-size:6.6px;line-height:1;font-weight:400;color:#404040;white-space:pre;left:249.81px;transform:scaleX(1.1);transform-origin:1.84px 0">0</div>
<div style="position:absolute;top:311.44px;font-size:6.6px;line-height:1;font-weight:400;color:#404040;white-space:pre;left:284.96px;transform:scaleX(1.1);transform-origin:1.84px 0">0</div>
<div style="position:absolute;top:311.44px;font-size:6.6px;line-height:1;font-weight:400;color:#404040;white-space:pre;left:320.26px;transform:scaleX(1.1);transform-origin:1.84px 0">0</div>
<div style="position:absolute;top:311.44px;font-size:6.6px;line-height:1;font-weight:400;color:#404040;white-space:pre;left:355.66px;transform:scaleX(1.1);transform-origin:1.84px 0">0</div>
<div style="position:absolute;top:311.44px;font-size:6.6px;line-height:1;font-weight:400;color:#404040;white-space:pre;left:390.91px;transform:scaleX(1.1);transform-origin:1.84px 0">0</div>
<div style="position:absolute;top:320.83px;font-size:6.6px;line-height:1;font-weight:400;color:#404040;white-space:pre;left:37.33px">24</div>
<div style="position:absolute;top:320.71px;font-size:6.75px;line-height:1;font-weight:400;color:#404040;white-space:pre;left:61.00px;transform:scaleX(1.04);transform-origin:0 0">Belt Loop Placement - Sideseam to Loop</div>
<div style="position:absolute;top:320.83px;font-size:6.6px;line-height:1;font-weight:400;color:#404040;white-space:pre;left:214.76px;transform:scaleX(1.1);transform-origin:1.84px 0">0</div>
<div style="position:absolute;top:320.83px;font-size:6.6px;line-height:1;font-weight:400;color:#404040;white-space:pre;left:249.81px;transform:scaleX(1.1);transform-origin:1.84px 0">0</div>
<div style="position:absolute;top:320.83px;font-size:6.6px;line-height:1;font-weight:400;color:#404040;white-space:pre;left:284.96px;transform:scaleX(1.1);transform-origin:1.84px 0">0</div>
<div style="position:absolute;top:320.83px;font-size:6.6px;line-height:1;font-weight:400;color:#404040;white-space:pre;left:320.26px;transform:scaleX(1.1);transform-origin:1.84px 0">0</div>
<div style="position:absolute;top:320.83px;font-size:6.6px;line-height:1;font-weight:400;color:#404040;white-space:pre;left:355.66px;transform:scaleX(1.1);transform-origin:1.84px 0">0</div>
<div style="position:absolute;top:320.83px;font-size:6.6px;line-height:1;font-weight:400;color:#404040;white-space:pre;left:390.91px;transform:scaleX(1.1);transform-origin:1.84px 0">0</div>
<div style="position:absolute;top:330.22px;font-size:6.6px;line-height:1;font-weight:400;color:#404040;white-space:pre;left:37.33px">25</div>
<div style="position:absolute;top:330.10px;font-size:6.75px;line-height:1;font-weight:400;color:#404040;white-space:pre;left:61.00px;transform:scaleX(1.04);transform-origin:0 0">Center Front Length - Waist to Hemline</div>
<div style="position:absolute;top:330.22px;font-size:6.6px;line-height:1;font-weight:400;color:#404040;white-space:pre;left:214.76px;transform:scaleX(1.1);transform-origin:1.84px 0">0</div>
<div style="position:absolute;top:330.22px;font-size:6.6px;line-height:1;font-weight:400;color:#404040;white-space:pre;left:249.81px;transform:scaleX(1.1);transform-origin:1.84px 0">0</div>
<div style="position:absolute;top:330.22px;font-size:6.6px;line-height:1;font-weight:400;color:#404040;white-space:pre;left:284.96px;transform:scaleX(1.1);transform-origin:1.84px 0">0</div>
<div style="position:absolute;top:330.22px;font-size:6.6px;line-height:1;font-weight:400;color:#404040;white-space:pre;left:320.26px;transform:scaleX(1.1);transform-origin:1.84px 0">0</div>
<div style="position:absolute;top:330.22px;font-size:6.6px;line-height:1;font-weight:400;color:#404040;white-space:pre;left:355.66px;transform:scaleX(1.1);transform-origin:1.84px 0">0</div>
<div style="position:absolute;top:330.22px;font-size:6.6px;line-height:1;font-weight:400;color:#404040;white-space:pre;left:390.91px;transform:scaleX(1.1);transform-origin:1.84px 0">0</div>
<div style="position:absolute;top:339.61px;font-size:6.6px;line-height:1;font-weight:400;color:#404040;white-space:pre;left:37.33px">26</div>
<div style="position:absolute;top:339.49px;font-size:6.75px;line-height:1;font-weight:400;color:#404040;white-space:pre;left:61.00px;transform:scaleX(1.04);transform-origin:0 0">Center Back Length - Waist to Hemline</div>
<div style="position:absolute;top:339.61px;font-size:6.6px;line-height:1;font-weight:400;color:#404040;white-space:pre;left:214.76px;transform:scaleX(1.1);transform-origin:1.84px 0">0</div>
<div style="position:absolute;top:339.61px;font-size:6.6px;line-height:1;font-weight:400;color:#404040;white-space:pre;left:249.81px;transform:scaleX(1.1);transform-origin:1.84px 0">0</div>
<div style="position:absolute;top:339.61px;font-size:6.6px;line-height:1;font-weight:400;color:#404040;white-space:pre;left:284.96px;transform:scaleX(1.1);transform-origin:1.84px 0">0</div>
<div style="position:absolute;top:339.61px;font-size:6.6px;line-height:1;font-weight:400;color:#404040;white-space:pre;left:320.26px;transform:scaleX(1.1);transform-origin:1.84px 0">0</div>
<div style="position:absolute;top:339.61px;font-size:6.6px;line-height:1;font-weight:400;color:#404040;white-space:pre;left:355.66px;transform:scaleX(1.1);transform-origin:1.84px 0">0</div>
<div style="position:absolute;top:339.61px;font-size:6.6px;line-height:1;font-weight:400;color:#404040;white-space:pre;left:390.91px;transform:scaleX(1.1);transform-origin:1.84px 0">0</div>
<div style="position:absolute;top:349.00px;font-size:6.6px;line-height:1;font-weight:400;color:#404040;white-space:pre;left:37.33px">27</div>
<div style="position:absolute;top:348.88px;font-size:6.75px;line-height:1;font-weight:400;color:#404040;white-space:pre;left:61.00px;transform:scaleX(1.04);transform-origin:0 0">Slit/Kickpleat Length</div>
<div style="position:absolute;top:349.00px;font-size:6.6px;line-height:1;font-weight:400;color:#404040;white-space:pre;left:214.76px;transform:scaleX(1.1);transform-origin:1.84px 0">0</div>
<div style="position:absolute;top:349.00px;font-size:6.6px;line-height:1;font-weight:400;color:#404040;white-space:pre;left:249.81px;transform:scaleX(1.1);transform-origin:1.84px 0">0</div>
<div style="position:absolute;top:349.00px;font-size:6.6px;line-height:1;font-weight:400;color:#404040;white-space:pre;left:284.96px;transform:scaleX(1.1);transform-origin:1.84px 0">0</div>
<div style="position:absolute;top:349.00px;font-size:6.6px;line-height:1;font-weight:400;color:#404040;white-space:pre;left:320.26px;transform:scaleX(1.1);transform-origin:1.84px 0">0</div>
<div style="position:absolute;top:349.00px;font-size:6.6px;line-height:1;font-weight:400;color:#404040;white-space:pre;left:355.66px;transform:scaleX(1.1);transform-origin:1.84px 0">0</div>
<div style="position:absolute;top:349.00px;font-size:6.6px;line-height:1;font-weight:400;color:#404040;white-space:pre;left:390.91px;transform:scaleX(1.1);transform-origin:1.84px 0">0</div>
<div style="position:absolute;top:358.39px;font-size:6.6px;line-height:1;font-weight:400;color:#404040;white-space:pre;left:37.33px">28</div>
<div style="position:absolute;top:358.27px;font-size:6.75px;line-height:1;font-weight:400;color:#404040;white-space:pre;left:61.00px;transform:scaleX(1.04);transform-origin:0 0">Slit/Kickpleat Depth</div>
<div style="position:absolute;top:358.39px;font-size:6.6px;line-height:1;font-weight:400;color:#404040;white-space:pre;left:214.76px;transform:scaleX(1.1);transform-origin:1.84px 0">0</div>
<div style="position:absolute;top:358.39px;font-size:6.6px;line-height:1;font-weight:400;color:#404040;white-space:pre;left:249.81px;transform:scaleX(1.1);transform-origin:1.84px 0">0</div>
<div style="position:absolute;top:358.39px;font-size:6.6px;line-height:1;font-weight:400;color:#404040;white-space:pre;left:284.96px;transform:scaleX(1.1);transform-origin:1.84px 0">0</div>
<div style="position:absolute;top:358.39px;font-size:6.6px;line-height:1;font-weight:400;color:#404040;white-space:pre;left:320.26px;transform:scaleX(1.1);transform-origin:1.84px 0">0</div>
<div style="position:absolute;top:358.39px;font-size:6.6px;line-height:1;font-weight:400;color:#404040;white-space:pre;left:355.66px;transform:scaleX(1.1);transform-origin:1.84px 0">0</div>
<div style="position:absolute;top:358.39px;font-size:6.6px;line-height:1;font-weight:400;color:#404040;white-space:pre;left:390.91px;transform:scaleX(1.1);transform-origin:1.84px 0">0</div>
</body></html>
